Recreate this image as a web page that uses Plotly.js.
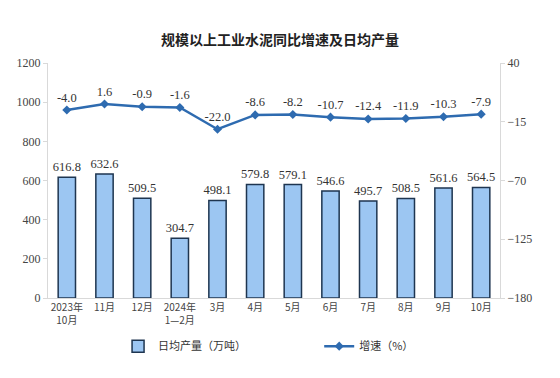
<!DOCTYPE html>
<html>
<head>
<meta charset="utf-8">
<script src="https://cdn.plot.ly/plotly-3.0.1.min.js"></script>
<style>html,body{margin:0;padding:0;background:#fff;}#chart{width:560px;height:378px;}</style>
</head>
<body>
<div id="chart"></div>
<script>
var categories = ["2023年<br>10月","11月","12月","2024年<br>1—2月","3月","4月","5月","6月","7月","8月","9月","10月"];
var output = [616.8, 632.6, 509.5, 304.7, 498.1, 579.8, 579.1, 546.6, 495.7, 508.5, 561.6, 564.5];
var growth = [-4.0, 1.6, -0.9, -1.6, -22.0, -8.6, -8.2, -10.7, -12.4, -11.9, -10.3, -7.9];

var serif = "Liberation Serif, Noto Sans CJK SC, serif";
var legFont = {family: "Noto Sans CJK SC, sans-serif", size: 11, color: "#333"};

var traces = [
  {
    type: "bar", name: "日均产量（万吨）", legend: "legend",
    x: categories, y: output,
    width: 0.46,
    marker: {color: "#9cc6f2", line: {color: "#1e3550", width: 1.5}},
    text: output.map(function(v){return v.toFixed(1);}),
    textposition: "outside", cliponaxis: false, constraintext: "none",
    textfont: {family: serif, size: 12.5, color: "#333"},
    hoverinfo: "none"
  },
  {
    type: "scatter", mode: "lines+markers+text", name: "增速（%）", legend: "legend2",
    x: categories, y: growth, yaxis: "y2",
    line: {color: "#2e6bb0", width: 2.5},
    marker: {color: "#2e6bb0", size: 7, symbol: "diamond"},
    text: growth.map(function(v){return v.toFixed(1);}),
    textposition: "top center", cliponaxis: false,
    textfont: {family: serif, size: 12.5, color: "#333"},
    hoverinfo: "none"
  }
];

var layout = {
  width: 560, height: 378,
  margin: {l: 48, r: 60, t: 63, b: 80},
  paper_bgcolor: "#fff", plot_bgcolor: "#fff",
  title: {text: "规模以上工业水泥同比增速及日均产量", x: 0.5, xanchor: "center", y: 0.895, yanchor: "middle",
          font: {family: "Noto Sans CJK SC, sans-serif", size: 14, color: "#222", weight: "bold"}},
  showlegend: true,
  legend: {orientation: "h", x: 0.155, xanchor: "left", y: -0.205, yanchor: "middle",
           font: legFont, itemwidth: 30, bgcolor: "rgba(0,0,0,0)"},
  legend2: {orientation: "h", x: 0.6, xanchor: "left", y: -0.205, yanchor: "middle",
           font: legFont, itemwidth: 30, bgcolor: "rgba(0,0,0,0)"},
  xaxis: {
    type: "category", showgrid: false, showline: true, linecolor: "#d9d9d9", linewidth: 1,
    ticks: "", tickfont: {family: "Noto Sans CJK SC, serif", size: 10, color: "#444"},
    range: [-0.5, 11.5], fixedrange: true
  },
  yaxis: {
    range: [0, 1200], dtick: 200, showgrid: false, zeroline: false,
    showline: true, linecolor: "#d9d9d9", linewidth: 1, ticks: "outside", ticklen: 4, tickcolor: "#d9d9d9",
    tickfont: {family: serif, size: 12, color: "#444"}, fixedrange: true
  },
  yaxis2: {
    overlaying: "y", side: "right", range: [-180, 40], tickvals: [40, -15, -70, -125, -180],
    showgrid: false, zeroline: false, showline: true, linecolor: "#d9d9d9", linewidth: 1,
    ticks: "outside", ticklen: 4, tickcolor: "#d9d9d9",
    tickfont: {family: serif, size: 12, color: "#444"}, fixedrange: true
  },
  bargap: 0.5
};

Plotly.newPlot("chart", traces, layout, {staticPlot: true, displayModeBar: false});
</script>
</body>
</html>
